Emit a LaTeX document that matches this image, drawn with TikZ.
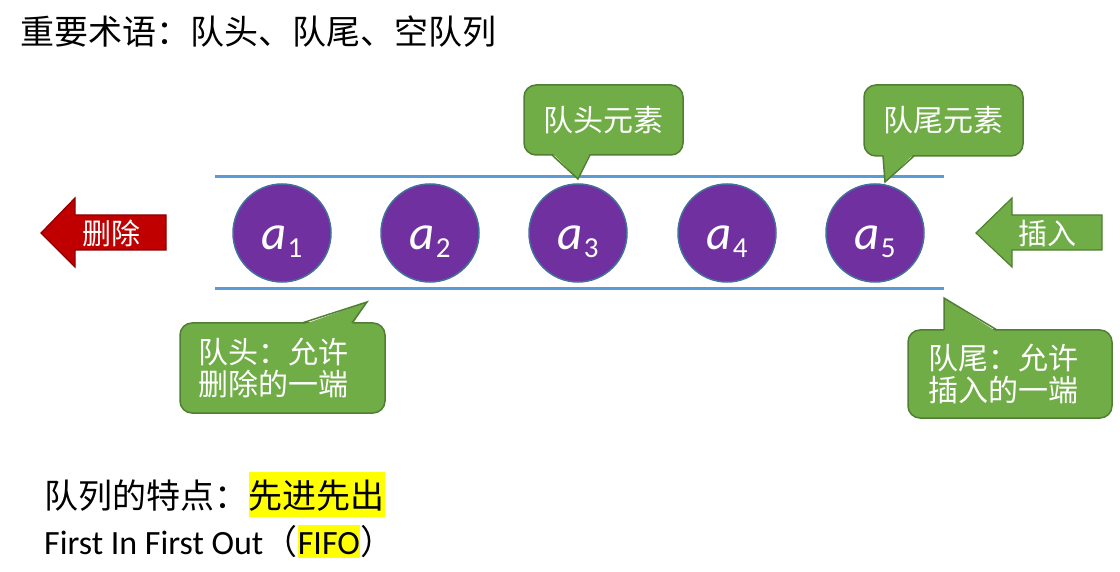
\documentclass[tikz,border=0pt]{standalone}
\usepackage{fontspec}
\setmainfont{Carlito}
\newfontfamily\cjk{Noto Sans CJK SC}
\definecolor{gfill}{HTML}{70AD47}
\definecolor{gline}{HTML}{507E32}
\definecolor{rfill}{HTML}{C00000}
\definecolor{rline}{HTML}{8B0000}
\definecolor{pfill}{HTML}{7030A0}
\definecolor{pline}{HTML}{41719C}
\definecolor{qline}{HTML}{5B9BD5}
\definecolor{hly}{HTML}{FFFF00}
\tikzset{
  callbox/.style={fill=gfill, draw=gline, line width=1.5pt, rounded corners=12pt,
    text=white, font=\cjk\fontsize{30}{32}\selectfont, inner sep=0pt},
  ptrfill/.style={fill=gfill},
  ptrline/.style={draw=gline, line width=1.5pt, line join=miter},
  elem/.style={circle, fill=pfill, draw=pline, line width=1.5pt, minimum size=98pt, inner sep=0pt},
  elemlbl/.style={text=white, font=\fontsize{49}{49}\selectfont, inner sep=0pt, anchor=base},
  tube/.style={draw=qline, line width=3pt},
  arrlbl/.style={text=white, font=\cjk\fontsize{29}{30}\selectfont, inner sep=0pt},
  redarrow/.style={fill=rfill, draw=rline, line width=1.2pt, line join=miter},
  grnarrow/.style={fill=gfill, draw=gline, line width=1.2pt, line join=miter},
  plain/.style={inner sep=0pt, text=black},
  hl/.style={fill=hly, inner xsep=0pt, inner ysep=0pt, text=black},
}
\newcommand{\elemtxt}[1]{\textit{a}\kern1pt\raisebox{-8pt}{\fontsize{29}{29}\selectfont #1}}
\begin{document}
\begin{tikzpicture}[x=1pt,y=-1pt]
\useasboundingbox[fill=white] (0,0) rectangle (1120,572);

% title
\node[plain, anchor=west, font=\cjk\fontsize{34}{40}\selectfont] (title) at (20,32) {重要术语：队头、队尾、空队列};

% tube
\coordinate (tl) at (215,177);
\coordinate (tr) at (944,177);
\coordinate (bl) at (215,289);
\coordinate (br) at (944,289);
\draw[tube] (tl) -- (tr);
\draw[tube] (bl) -- (br);

% elements
\foreach \i/\x in {1/282,2/430,3/578,4/727,5/875}{
  \node[elem] (a\i) at (\x,233) {};
  \node[elemlbl] (l\i) at ([yshift=-17pt]a\i.center) {\elemtxt{\i}};
}

% delete arrow
\draw[redarrow] (41,233) -- (75,198) -- (75,215) -- (166,215) -- (166,250) -- (75,250) -- (75,267) -- cycle;
\node[arrlbl] (del) at (111,233) {删除};

% insert arrow
\draw[grnarrow] (976,233) -- (1012,198) -- (1012,215) -- (1102,215) -- (1102,250) -- (1012,250) -- (1012,267) -- cycle;
\node[arrlbl] (ins) at (1047,233) {插入};

% callout: head element
\node[callbox, minimum width=159pt, minimum height=70pt] (c1) at (603.5,120) {队头元素};
\coordinate (p1) at (578,179);
\fill[ptrfill] (552,153) -- (p1) -- (590,153) -- cycle;
\draw[ptrline] (552,155) -- (p1) -- (590,155);

% callout: tail element
\node[callbox, minimum width=159pt, minimum height=71pt] (c2) at (943.5,120.5) {队尾元素};
\coordinate (p2) at (885,182);
\fill[ptrfill] (883,154) -- (p2) -- (914,154) -- cycle;
\draw[ptrline] (883,156) -- (p2) -- (914,156);

% callout: head end
\node[callbox, minimum width=205pt, minimum height=90pt, text width=169pt, inner xsep=18pt, align=left] (c3) at (282.5,368) {队头：允许\\删除的一端};
\coordinate (p3) at (367,302);
\fill[ptrfill] (302,325) -- (p3) -- (352,325) -- cycle;
\draw[ptrline] (302,323) -- (p3) -- (352,323);

% callout: tail end
\node[callbox, minimum width=204pt, minimum height=88pt, text width=164pt, inner xsep=20pt, align=left] (c4) at (1010,374) {队尾：允许\\插入的一端};
\coordinate (p4) at (944,298);
\fill[ptrfill] (944,332) -- (p4) -- (997,332) -- cycle;
\draw[ptrline] (944,330) -- (p4) -- (997,330);

% bottom text
\node[plain, anchor=base west, font=\cjk\fontsize{34}{40}\selectfont] (feat) at (44,508) {队列的特点：};
\node[hl, anchor=base west, text height=36pt, text depth=9pt, font=\cjk\fontsize{34}{40}\selectfont] (fast) at (feat.base east) {先进先出};
\node[plain, anchor=base west, font=\fontsize{34}{40}\selectfont] (eng) at (44,554) {First In First Out{\cjk （}};
\node[hl, anchor=base west, text height=29pt, text depth=4pt, font=\fontsize{34}{40}\selectfont] (fifo) at (eng.base east) {FIFO};
\node[plain, anchor=base west, font=\cjk\fontsize{34}{40}\selectfont] (close) at (fifo.base east) {）};
\end{tikzpicture}
\end{document}
